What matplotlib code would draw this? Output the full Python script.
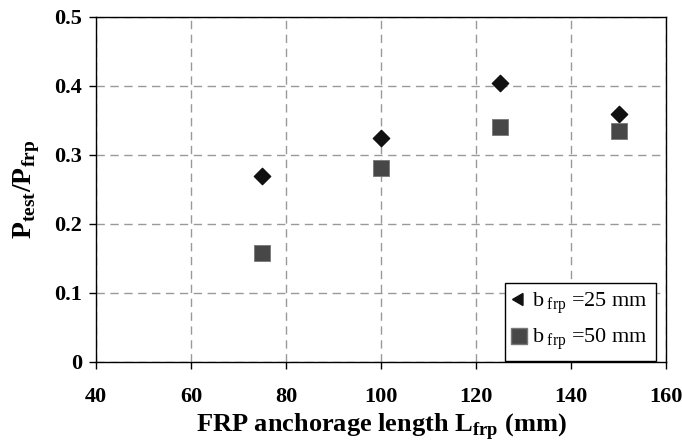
import matplotlib.pyplot as plt
from matplotlib.lines import Line2D

# anchorage length (mm) and normalised load
lengths = [75, 100, 125, 150]
ratio_b25 = [0.269, 0.324, 0.404, 0.359]
ratio_b50 = [0.158, 0.2815, 0.341, 0.335]

x_ticks = [40, 60, 80, 100, 120, 140, 160]
y_ticks = [0, 0.1, 0.2, 0.3, 0.4, 0.5]
y_tick_labels = ['0', '0.1', '0.2', '0.3', '0.4', '0.5']

plt.rcParams['font.family'] = ['Liberation Serif', 'DejaVu Serif']
plt.rcParams['mathtext.fontset'] = 'custom'
plt.rcParams['mathtext.rm'] = 'Liberation Serif'
plt.rcParams['mathtext.bf'] = 'Liberation Serif:bold'

fig = plt.figure(figsize=(6.82, 4.44), dpi=100)
ax = fig.add_axes([0.141, 0.185, 0.836, 0.777])

ax.scatter(lengths, ratio_b25, marker='D', s=8.3**2, color='#111111', zorder=3)
ax.scatter(lengths, ratio_b50, marker='s', s=11.5**2, color='#474747',
           edgecolors='#777777', linewidths=0.6, zorder=3)

ax.set_xlim(40, 160)
ax.set_ylim(0, 0.5)
ax.set_xticks(x_ticks)
ax.set_yticks(y_ticks)
ax.set_yticklabels(y_tick_labels)
ax.grid(True, color='#999999', linestyle=(0, (6, 4)), linewidth=1.0)
ax.set_axisbelow(True)
ax.tick_params(direction='out', length=5, width=1, labelsize=16, pad=5)
ax.tick_params(axis='x', pad=13)
for lab in ax.get_xticklabels() + ax.get_yticklabels():
    lab.set_fontweight('bold')
for sp in ax.spines.values():
    sp.set_linewidth(1.0)

ax.set_xlabel(r'FRP anchorage length L$_{\mathbf{frp}}$ (mm)', fontsize=19,
              fontweight='bold', labelpad=3)
ax.set_ylabel(r'P$_{\mathbf{test}}$/P$_{\mathbf{frp}}$', fontsize=20,
              fontweight='bold', labelpad=9)

handles = [
    Line2D([], [], linestyle='none', marker=(3, 0, 90), markersize=10,
           color='#111111'),
    Line2D([], [], linestyle='none', marker='s', markersize=11,
           color='#474747', markeredgecolor='#777777'),
]
labels = [r'b$\,_{\rm frp}$ =25 mm', r'b$\,_{\rm frp}$ =50 mm']
leg = ax.legend(handles, labels, loc='lower right', bbox_to_anchor=(0.984, 0.0),
                fontsize=16, frameon=True, fancybox=False, handlelength=0.6,
                handletextpad=0.3, borderpad=0.35, labelspacing=0.45,
                borderaxespad=0.05, framealpha=1)
leg.get_frame().set_edgecolor('black')
leg.get_frame().set_linewidth(1.0)

plt.savefig('out.png', dpi=100)
